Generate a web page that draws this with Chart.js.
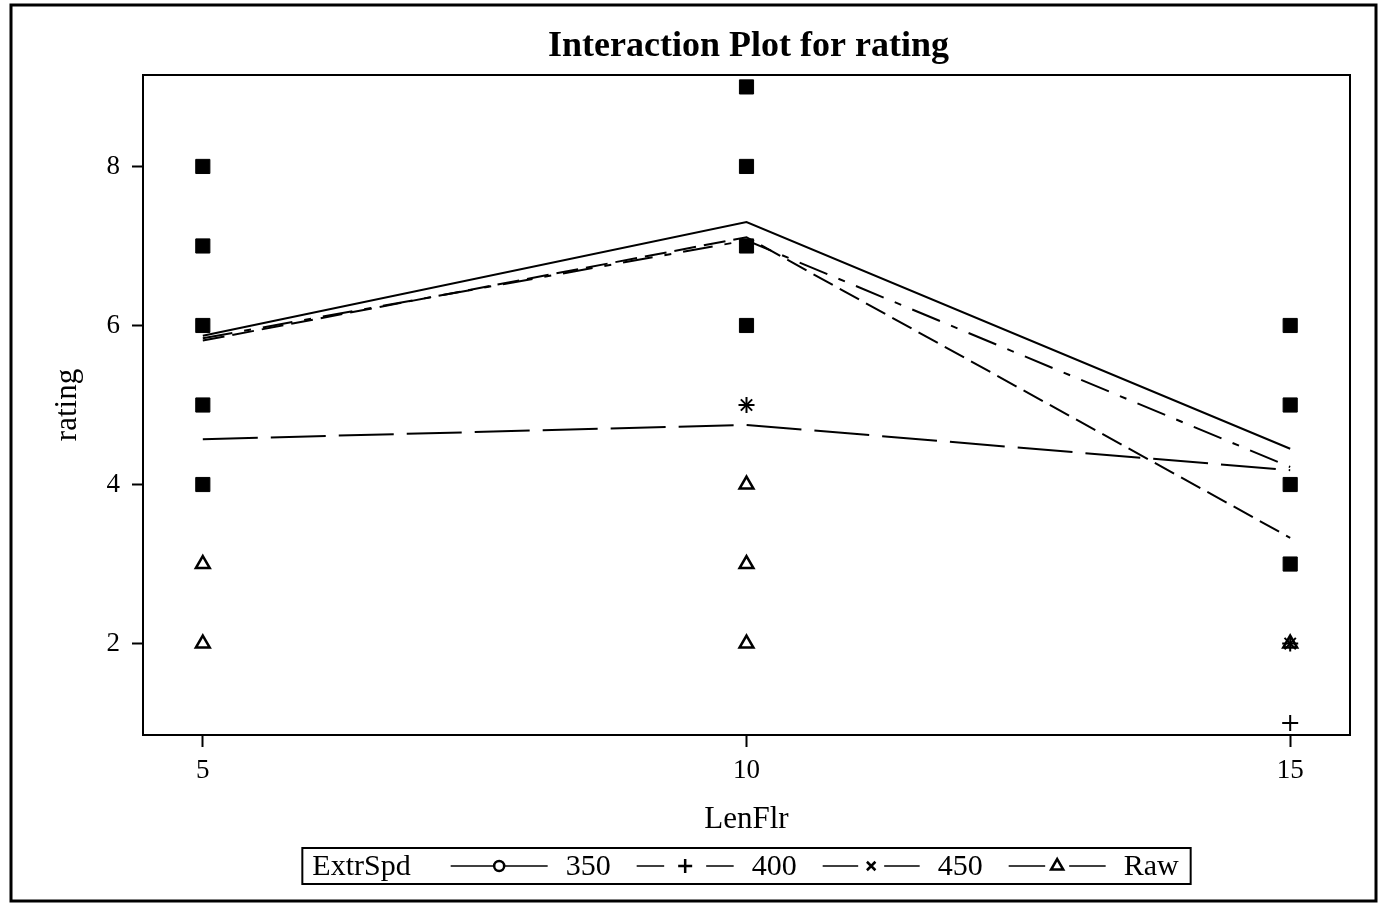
<!DOCTYPE html>
<html>
<head>
    <title>Interaction Plot for rating</title>
    <script src="https://cdn.jsdelivr.net/npm/chart.js"></script>
    <style>
        body { margin: 0; background: #fff; }
    </style>
</head>
<body>
    <canvas id="ratingChart" width="1381" height="904"></canvas>

    <script>
        // LenFlr levels and axis ticks
        const lenFlr = [5, 10, 15];
        const xTicks = [5, 10, 15];
        const yTicks = [2, 4, 6, 8];

        // cell means of rating for each ExtrSpd level
        const groups = ['350', '400', '450', 'Raw'];
        const mean350 = [5.87, 7.30, 4.45];
        const mean400 = [5.81, 7.11, 3.33];
        const mean450 = [5.84, 7.07, 4.22];
        const meanRaw = [4.57, 4.75, 4.18];

        // raw observations; where every symbol piles up they print as a black blob
        const piledX = [5, 5, 5, 5, 5, 10, 10, 10, 10, 15, 15, 15, 15];
        const piledY = [8, 7, 6, 5, 4, 9, 8, 7, 6, 6, 5, 4, 3];
        const obs400X = [10, 15, 15];
        const obs400Y = [5, 2, 1];
        const obs450X = [10, 15];
        const obs450Y = [5, 2];
        const obsRawX = [5, 5, 10, 10, 10, 15];
        const obsRawY = [3, 2, 4, 3, 2, 2];

        const FONT = '"Liberation Serif", "Times New Roman", serif';
        const pts = (xs, ys) => xs.map((x, i) => ({ x: x, y: ys[i] }));

        const lineStyle = {
            '350': { dash: [], marker: 'circle', r: 5, gap: 0 },
            '400': { dash: [22, 8], marker: 'cross', r: 7, gap: 21 },
            '450': { dash: [30, 12, 7, 12], marker: 'crossRot', r: 6, gap: 13 },
            'Raw': { dash: [55, 13], marker: 'triangle', r: 7, gap: 12 }
        };
        const means = [mean350, mean400, mean450, meanRaw];

        const lineSets = groups.map((g, i) => ({
            type: 'line',
            label: g,
            data: pts(lenFlr, means[i]),
            borderColor: '#000',
            borderWidth: 2,
            borderDash: lineStyle[g].dash,
            pointRadius: 0,
            tension: 0
        }));

        const markSets = [
            { type: 'scatter', label: 'piled', data: pts(piledX, piledY),
              pointStyle: 'rect', pointRadius: 10, backgroundColor: '#000', borderColor: '#000', borderWidth: 1 },
            { type: 'scatter', label: 'obs 400', data: pts(obs400X, obs400Y),
              pointStyle: 'cross', pointRadius: 8, borderColor: '#000', borderWidth: 2 },
            { type: 'scatter', label: 'obs 450', data: pts(obs450X, obs450Y),
              pointStyle: 'crossRot', pointRadius: 8, borderColor: '#000', borderWidth: 2 },
            { type: 'scatter', label: 'obs Raw', data: pts(obsRawX, obsRawY),
              pointStyle: 'triangle', pointRadius: 8, backgroundColor: '#fff', borderColor: '#000', borderWidth: 2.5 }
        ];

        // frame, title and SAS-style legend box
        const sasDecor = {
            id: 'sasDecor',
            beforeDraw(chart) {
                const c = chart.ctx;
                c.save();
                c.fillStyle = '#fff';
                c.fillRect(0, 0, chart.width, chart.height);
                c.restore();
            },
            afterDraw(chart) {
                const c = chart.ctx;
                const a = chart.chartArea;
                const mid = (a.left + a.right) / 2;
                c.save();
                c.strokeStyle = '#000';
                c.lineWidth = 2;
                c.strokeRect(a.left, a.top, a.right - a.left, a.bottom - a.top);
                c.lineWidth = 3;
                c.strokeRect(11, 5, 1365, 896);

                c.fillStyle = '#000';
                c.font = 'bold 36px ' + FONT;
                c.textAlign = 'center';
                c.textBaseline = 'middle';
                c.fillText('Interaction Plot for rating', mid + 2, 47);

                // legend
                c.font = '30px ' + FONT;
                c.textAlign = 'left';
                const sample = 97, gapText = 18, gapNext = 26, gapHead = 40;
                let total = c.measureText('ExtrSpd').width + gapHead;
                groups.forEach((g, i) => {
                    total += sample + gapText + c.measureText(g).width + (i < groups.length - 1 ? gapNext : 0);
                });
                const boxW = total + 22;
                const boxL = mid - boxW / 2, boxT = 848, boxH = 36;
                c.lineWidth = 2;
                c.strokeRect(boxL, boxT, boxW, boxH);
                const cy = boxT + boxH / 2;
                let x = boxL + 10;
                c.fillText('ExtrSpd', x, cy + 1);
                x += c.measureText('ExtrSpd').width + gapHead;
                groups.forEach(g => {
                    const st = lineStyle[g];
                    const mx = x + sample / 2;
                    c.lineWidth = 1.5;
                    c.beginPath();
                    if (st.gap === 0) {
                        c.moveTo(x, cy); c.lineTo(x + sample, cy);
                    } else {
                        c.moveTo(x, cy); c.lineTo(mx - st.gap, cy);
                        c.moveTo(mx + st.gap, cy); c.lineTo(x + sample, cy);
                    }
                    c.stroke();
                    c.fillStyle = '#fff';
                    c.lineWidth = 2.5;
                    Chart.helpers.drawPoint(c, { pointStyle: st.marker, radius: st.r, borderWidth: 2.5 }, mx, cy);
                    c.fillStyle = '#000';
                    x += sample + gapText;
                    c.fillText(g, x, cy + 1);
                    x += c.measureText(g).width + gapNext;
                });
                c.restore();
            }
        };

        const tickFont = { family: FONT, size: 27 };
        const titleFont = { family: FONT, size: 31 };

        new Chart(document.getElementById('ratingChart').getContext('2d'), {
            data: { datasets: [...lineSets, ...markSets] },
            options: {
                responsive: false,
                animation: false,
                devicePixelRatio: 1,
                layout: { padding: { left: 43, top: 75, right: 31, bottom: 66 } },
                plugins: { legend: { display: false }, tooltip: { enabled: false } },
                scales: {
                    x: {
                        type: 'linear',
                        min: 4.45,
                        max: 15.55,
                        afterBuildTicks: s => { s.ticks = xTicks.map(v => ({ value: v })); },
                        afterFit: s => { s.height = 103; },
                        ticks: { color: '#000', font: tickFont, padding: 8, maxRotation: 0 },
                        grid: { drawOnChartArea: false, tickLength: 12, tickColor: '#000', tickWidth: 2 },
                        border: { display: true, color: '#000', width: 2 },
                        title: { display: true, text: 'LenFlr', color: '#000', font: titleFont, padding: 0 }
                    },
                    y: {
                        type: 'linear',
                        min: 0.85,
                        max: 9.15,
                        afterBuildTicks: s => { s.ticks = yTicks.map(v => ({ value: v })); },
                        afterFit: s => { s.width = 100; },
                        ticks: { color: '#000', font: tickFont, padding: 12 },
                        grid: { drawOnChartArea: false, tickLength: 11, tickColor: '#000', tickWidth: 2 },
                        border: { display: true, color: '#000', width: 2 },
                        title: { display: true, text: 'rating', color: '#000', font: titleFont, padding: { top: 6, bottom: 0 } }
                    }
                }
            },
            plugins: [sasDecor]
        });
    </script>
</body>
</html>
